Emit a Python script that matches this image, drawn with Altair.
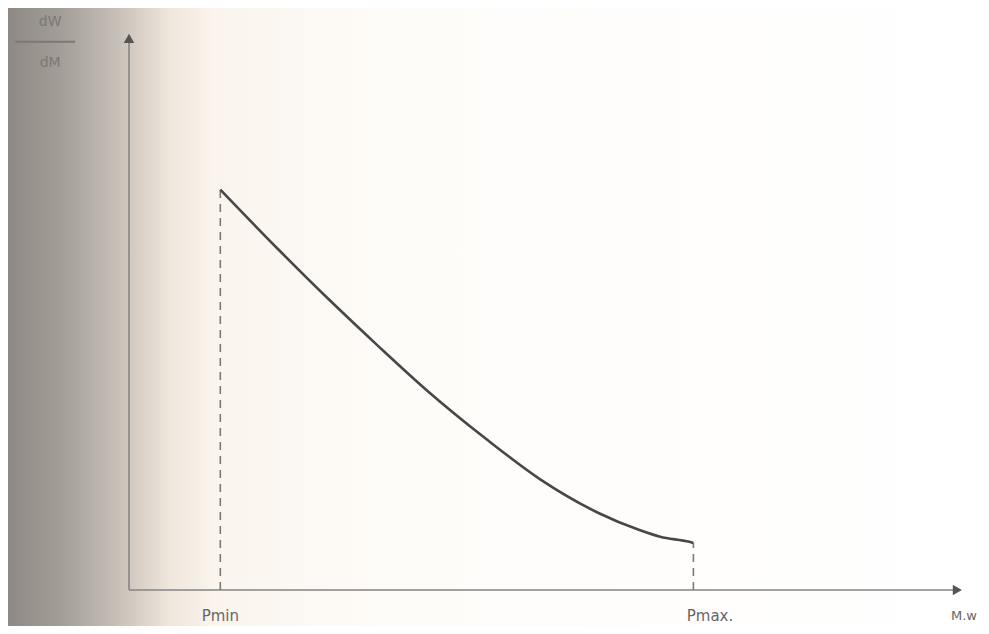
import altair as alt
import pandas as pd

# ---- data (abstract units: axis origin = 0,0) ----
curve_m = [11, 18, 24, 30, 36, 43, 49.5, 56.5, 61.5, 64, 67.5, 68]
curve_v = [71.5, 60.8, 52, 43.6, 35.5, 27, 19.8, 13.8, 10.7, 9.5, 8.6, 8.4]
p_min = 11
p_max = 68
axis_x_end = 101
axis_y_end = 101
x_labels = ["Pmin", "Pmax.", "M.w"]
x_label_pos = [11, 70, 100.6]
y_label_top = "dW"
y_label_bottom = "dM"

W, H = 973, 618
X_DOM = [-14.58, 102.65]
Y_DOM = [-6.43, 103.93]

xs = alt.Scale(domain=X_DOM, nice=False, zero=False)
ys = alt.Scale(domain=Y_DOM, nice=False, zero=False)

def X(f):
    return alt.X(f, type="quantitative", scale=xs, axis=None)

def Y(f):
    return alt.Y(f, type="quantitative", scale=ys, axis=None)

one = pd.DataFrame({"a": [0]})

grad = alt.Gradient(
    gradient="linear",
    x1=0, x2=1, y1=0, y2=0,
    stops=[
        alt.GradientStop(offset=0.0, color="#8e8984"),
        alt.GradientStop(offset=0.053, color="#a39d97"),
        alt.GradientStop(offset=0.105, color="#c2bbb4"),
        alt.GradientStop(offset=0.136, color="#d9d1c8"),
        alt.GradientStop(offset=0.166, color="#efe6dc"),
        alt.GradientStop(offset=0.21, color="#faf4ed"),
        alt.GradientStop(offset=0.4, color="#fefcf9"),
        alt.GradientStop(offset=1.0, color="#ffffff"),
    ],
)

bg = alt.Chart(one).mark_rect(fill=grad, strokeWidth=0).encode(
    x=alt.value(0), x2=alt.value(W), y=alt.value(0), y2=alt.value(H)
)

axes_df = pd.DataFrame({
    "x": [0, 0], "y": [0, 0],
    "x2": [axis_x_end - 1.5, 0], "y2": [0, axis_y_end - 3],
})
axes = alt.Chart(axes_df).mark_rule(color="#858585", strokeWidth=1.6).encode(
    x=X("x"), y=Y("y"), x2="x2", y2="y2"
)

arrows_df = pd.DataFrame({
    "x": [axis_x_end - 1.2, 0], "y": [0, axis_y_end - 2.5],
    "shape": ["triangle-right", "triangle-up"],
})
arrows = alt.Chart(arrows_df).mark_point(
    filled=True, size=110, color="#555555", opacity=1
).encode(
    x=X("x"), y=Y("y"),
    shape=alt.Shape("shape:N", scale=None, legend=None),
)

drops_df = pd.DataFrame({
    "x": [p_min, p_max], "y": [0, 0],
    "y2": [curve_v[0], curve_v[-1]],
})
drops = alt.Chart(drops_df).mark_rule(
    color="#7a7a7a", strokeWidth=1.6, strokeDash=[8, 6]
).encode(x=X("x"), y=Y("y"), y2="y2")

curve_df = pd.DataFrame({"m": curve_m, "v": curve_v})
curve = alt.Chart(curve_df).mark_line(
    color="#474747", strokeWidth=2.6, interpolate="monotone"
).encode(x=X("m"), y=Y("v"))

lab_df = pd.DataFrame({"x": x_label_pos, "y": [-4.6, -4.6, -4.6], "t": x_labels,
                       "s": [15, 15, 13]})
labels = alt.Chart(lab_df).mark_text(
    color="#666666", font="DejaVu Sans", baseline="middle", align="center"
).encode(x=X("x"), y=Y("y"), text="t:N", size=alt.Size("s:Q", scale=None, legend=None))

frac_df = pd.DataFrame({"x": [-9.5, -9.5], "y": [101.4, 94.1],
                        "t": [y_label_top, y_label_bottom]})
frac = alt.Chart(frac_df).mark_text(
    color="#7d7873", font="DejaVu Sans", fontSize=14, baseline="middle", align="center"
).encode(x=X("x"), y=Y("y"), text="t:N")
bar_df = pd.DataFrame({"x": [-13.7], "x2": [-6.5], "y": [97.9]})
frac_bar = alt.Chart(bar_df).mark_rule(color="#7d7873", strokeWidth=2).encode(
    x=X("x"), x2="x2", y=Y("y")
)

chart = alt.layer(bg, axes, drops, curve, arrows, labels, frac, frac_bar).properties(
    width=W, height=H, padding=0, autosize=alt.AutoSizeParams(type="none"),
    background="#fefefe",
).configure_view(stroke=None)

chart.save("out.html", embed_options={"renderer": "svg", "actions": False})
